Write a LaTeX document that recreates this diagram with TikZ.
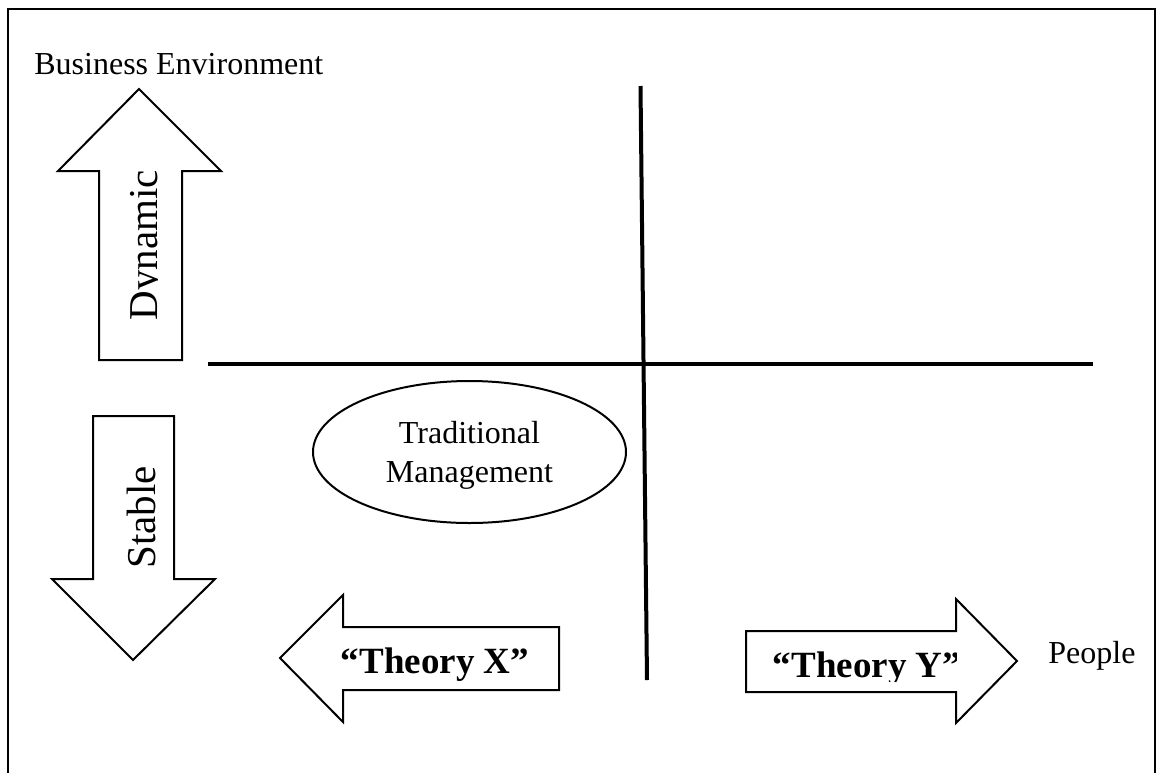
\documentclass[tikz,border=0pt]{standalone}
\usepackage{fontspec}
\setmainfont{Liberation Serif}
\usetikzlibrary{shapes.geometric}
\begin{document}
\begin{tikzpicture}[x=0.5pt,y=-0.5pt,
  blockarrow/.style={draw=black, line width=1pt, fill=white, line join=miter},
  axisline/.style={line width=2pt, line cap=butt},
  plainlabel/.style={inner sep=0pt, font=\fontsize{16}{19.5}\selectfont},
  sidelabel/.style={inner sep=0pt, rotate=90, anchor=base, font=\fontsize{20.5}{24}\selectfont},
  theorylabel/.style={inner sep=0pt, anchor=base, font=\fontsize{18.5}{22}\selectfont\bfseries}]
\useasboundingbox (0,0) rectangle (1157,772);
\fill[white] (0,0) rectangle (1157,772);

% outer frame, open at the bottom
\draw[line width=1.4pt] (8,800) -- (8,9) -- (1155,9) -- (1155,800);

% axes
\coordinate (hleft) at (208,364);
\coordinate (hright) at (1093,364);
\coordinate (vtop) at (640.5,86);
\coordinate (vbottom) at (647,680);
\draw[axisline] (hleft) -- (hright);
\draw[axisline] (vtop) -- (vbottom);

% block arrows
\draw[blockarrow] (99,360) -- (99,171) -- (58,171) -- (139,89) -- (221,171) -- (182,171) -- (182,360) -- cycle;
\draw[blockarrow] (93,416) -- (174,416) -- (174,579) -- (215,579) -- (133,660) -- (52,579) -- (93,579) -- cycle;
\draw[blockarrow] (559,627) -- (343,627) -- (343,595) -- (280,658) -- (343,722) -- (343,690) -- (559,690) -- cycle;
\draw[blockarrow] (746,631) -- (956,631) -- (956,599) -- (1017,661) -- (956,723) -- (956,692) -- (746,692) -- cycle;

% ellipse
\node[draw, line width=1pt, ellipse, minimum width=156.5pt, minimum height=71pt, inner sep=0pt] (tradmgmt) at (469.5,452) {};
\node[plainlabel, align=center] (tradlabel) at (469.5,455.5) {Traditional\\Management};

% labels
\node[plainlabel, anchor=base west] (business) at (34,74) {Business Environment};
\node[plainlabel, anchor=base west] (people) at (1048,663) {People};

% the text box inside the up arrow cuts the descender
\begin{scope}
  \clip (99,171) rectangle (157.5,360);
  \node[sidelabel] (dynamic) at (157,245) {Dynamic};
\end{scope}
\node[sidelabel] (stable) at (155,517.5) {Stable};

\node[theorylabel] (theoryx) at (435,673) {“Theory X”};
\begin{scope}
  \clip (746,631) rectangle (956,681);
  \node[theorylabel] (theoryy) at (867,677) {“Theory Y”};
\end{scope}
\end{tikzpicture}
\end{document}
